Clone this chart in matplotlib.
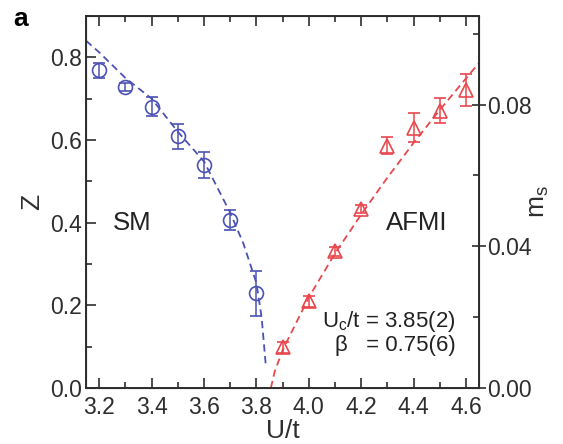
import matplotlib
matplotlib.use("Agg")
import matplotlib.pyplot as plt
from matplotlib.ticker import MultipleLocator

plt.rcParams["font.family"] = ["Liberation Sans", "DejaVu Sans"]

# SM side: quasiparticle weight Z
u_sm = [3.2, 3.3, 3.4, 3.5, 3.6, 3.7, 3.8]
z_sm = [0.769, 0.729, 0.680, 0.609, 0.540, 0.407, 0.229]
z_err = [0.018, 0.010, 0.023, 0.030, 0.032, 0.024, 0.055]

# fit curve for Z
u_zfit = [3.15, 3.2, 3.3, 3.4, 3.5, 3.6, 3.7, 3.75, 3.8, 3.82, 3.835]
z_fit = [0.84, 0.812, 0.75, 0.70, 0.62, 0.548, 0.424, 0.35, 0.254, 0.17, 0.06]

# AFMI side: staggered magnetization m_s
u_af = [3.9, 4.0, 4.1, 4.2, 4.3, 4.4, 4.5, 4.6]
ms = [0.0115, 0.0245, 0.0386, 0.0505, 0.0684, 0.0735, 0.0783, 0.0840]
ms_err = [0.0015, 0.0015, 0.0012, 0.0012, 0.0024, 0.0040, 0.0035, 0.0045]

# fit curve for m_s
u_mfit = [3.855, 3.87, 3.9, 4.0, 4.1, 4.2, 4.3, 4.4, 4.5, 4.6, 4.65]
m_fit = [0.0, 0.0047, 0.0107, 0.0256, 0.038, 0.049, 0.0594, 0.0692, 0.0785, 0.0874, 0.0918]

blue = "#4b52b3"
red = "#e8474d"
ink = "#2e2e2e"

fig = plt.figure(figsize=(5.63, 4.44), dpi=100)
ax = fig.add_axes([0.153, 0.126, 0.698, 0.838])
ax2 = ax.twinx()

ax.plot(u_zfit, z_fit, ls=(0, (4, 2.5)), color=blue, lw=1.3)
ax.errorbar(u_sm, z_sm, yerr=z_err, fmt="o", ms=10, mfc="none", mec=blue,
            mew=1.2, ecolor=blue, elinewidth=1.1, capsize=4, capthick=1.1)

ax2.plot(u_mfit, m_fit, ls=(0, (4, 2.5)), color=red, lw=1.3)
ax2.errorbar(u_af, ms, yerr=ms_err, fmt="^", ms=9.5, mfc="none", mec=red,
             mew=1.2, ecolor=red, elinewidth=1.1, capsize=4, capthick=1.1)

ax.set_xlim(3.15, 4.65)
ax.set_ylim(0, 0.9)
ax2.set_ylim(0, 0.105)

ax.xaxis.set_major_locator(MultipleLocator(0.2))
ax.xaxis.set_minor_locator(MultipleLocator(0.1))
ax.yaxis.set_major_locator(MultipleLocator(0.2))
ax.yaxis.set_minor_locator(MultipleLocator(0.1))
ax2.yaxis.set_major_locator(MultipleLocator(0.04))
ax2.yaxis.set_minor_locator(MultipleLocator(0.02))
ax.xaxis.set_major_formatter(plt.FormatStrFormatter("%.1f"))
ax.yaxis.set_major_formatter(plt.FormatStrFormatter("%.1f"))
ax2.yaxis.set_major_formatter(plt.FormatStrFormatter("%.2f"))

ax.tick_params(axis="x", which="both", direction="in", top=True, labelsize=16.5,
               pad=6, color=ink, labelcolor=ink)
ax.tick_params(axis="x", which="major", length=7, width=1.2)
ax.tick_params(axis="x", which="minor", length=4, width=1.2)
ax.tick_params(axis="y", which="both", direction="in", labelsize=16.5,
               pad=3, color=ink, labelcolor=ink)
ax.tick_params(axis="y", which="major", length=7, width=1.2)
ax.tick_params(axis="y", which="minor", length=4, width=1.2)
ax2.tick_params(axis="y", which="major", direction="inout", length=10, width=1.2,
                labelsize=16.5, pad=1, color=ink, labelcolor=ink)
ax2.tick_params(axis="y", which="minor", direction="in", length=4, width=1.2,
                color=ink)

for sp in ax2.spines.values():
    sp.set_linewidth(1.4)
    sp.set_color(ink)

ax.set_xlabel("U/t", fontsize=19, color=ink, labelpad=0)
ax.set_ylabel("Z", fontsize=19, color=ink, labelpad=4)
ax2.set_ylabel("m$_\\mathregular{s}$", fontsize=19, color=ink, labelpad=-4)

ax.text(3.253, 0.40, "SM", fontsize=18.5, color="#222222", va="center")
ax.text(4.41, 0.40, "AFMI", fontsize=18.5, color="#222222", va="center", ha="center")
ax.text(4.561, 0.162, "U$_\\mathregular{c}$/t = 3.85(2)", fontsize=16,
        color="#222222", ha="right", va="center")
ax.text(4.561, 0.102, "\u03b2   = 0.75(6)", fontsize=16,
        color="#222222", ha="right", va="center")

fig.text(0.024, 0.985, "a", fontsize=19, fontweight="bold", va="top")

fig.savefig("out.png", dpi=100)
